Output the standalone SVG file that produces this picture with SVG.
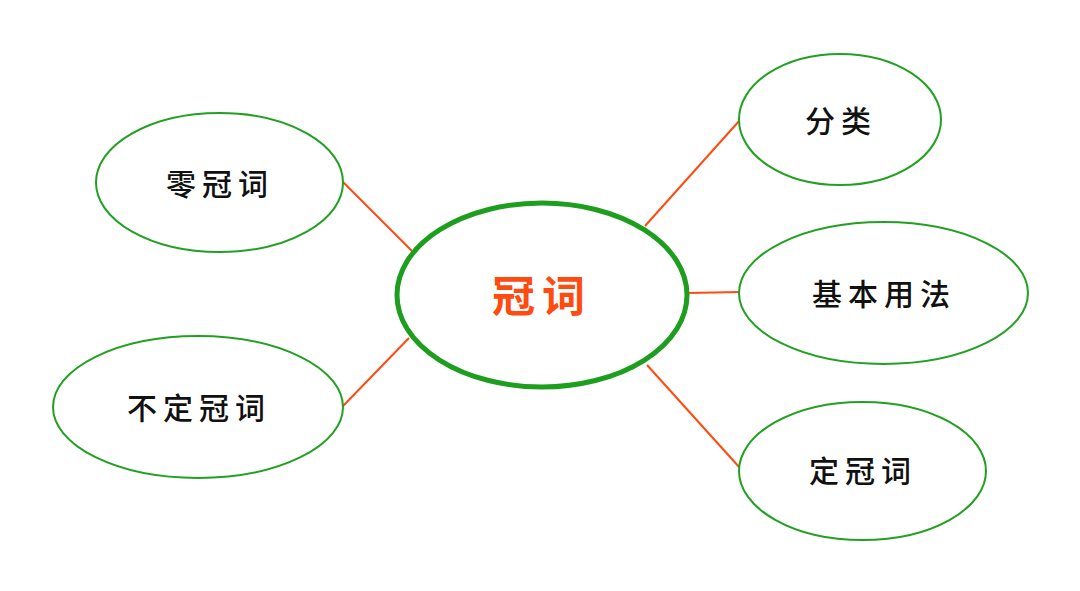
<svg xmlns="http://www.w3.org/2000/svg" width="1080" height="591" viewBox="0 0 1080 591">
<style>
.n{fill:#fff;stroke:#22A022;stroke-width:2}
.c{fill:#fff;stroke:#1E9E1E;stroke-width:5}
.t{font-family:"Noto Sans CJK SC","Noto Sans",sans-serif;font-size:30px;font-weight:500;fill:#111;text-anchor:middle;dominant-baseline:central;letter-spacing:6px}
.tc{font-family:"Noto Sans CJK SC","Noto Sans",sans-serif;font-size:43px;font-weight:bold;fill:#FF4A10;text-anchor:middle;dominant-baseline:central;letter-spacing:7px}
.l{stroke:#FF4A10;stroke-width:2;fill:none}
</style>
<rect width="1080" height="591" fill="#fff"/>
<g id="connectors">
<line class="l" x1="343" y1="182" x2="413" y2="252"/>
<line class="l" x1="343" y1="406" x2="409" y2="338"/>
<line class="l" x1="645" y1="226" x2="740" y2="120"/>
<line class="l" x1="688" y1="293" x2="740" y2="292"/>
<line class="l" x1="647" y1="365" x2="740" y2="468"/>
</g>
<g id="center">
<ellipse class="c" cx="542" cy="295" rx="145" ry="92"/>
<text class="tc" x="542" y="293">冠词</text>
</g>
<g id="lingguanci">
<ellipse class="n" cx="219.5" cy="182.5" rx="123.5" ry="69.5"/>
<text class="t" x="220" y="182">零冠词</text>
</g>
<g id="budingguanci">
<ellipse class="n" cx="198" cy="407" rx="145" ry="71"/>
<text class="t" x="199" y="406">不定冠词</text>
</g>
<g id="fenlei">
<ellipse class="n" cx="840" cy="119.5" rx="101" ry="65.5"/>
<text class="t" x="841" y="119">分类</text>
</g>
<g id="jibenyongfa">
<ellipse class="n" cx="883.5" cy="293" rx="144.5" ry="71"/>
<text class="t" x="884" y="292">基本用法</text>
</g>
<g id="dingguanci">
<ellipse class="n" cx="862.5" cy="471" rx="123.5" ry="69"/>
<text class="t" x="863" y="469">定冠词</text>
</g>
</svg>
